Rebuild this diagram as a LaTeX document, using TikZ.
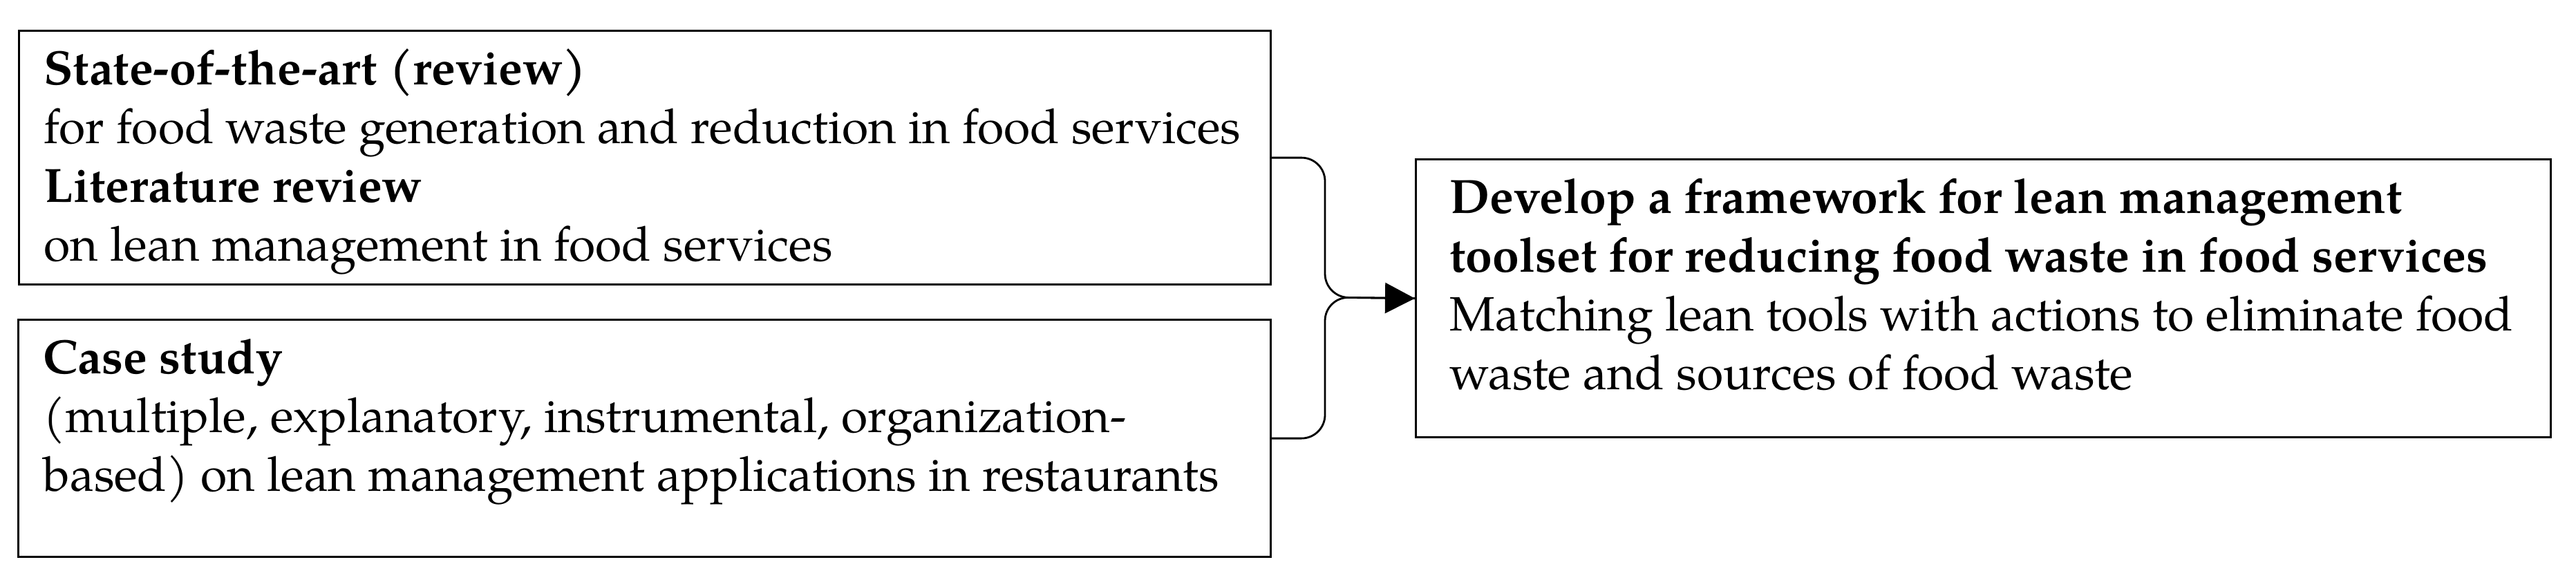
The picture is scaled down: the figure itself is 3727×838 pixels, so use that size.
\documentclass[tikz,border=0pt]{standalone}
\usepackage{fontspec}
\setmainfont{texgyrepagella}[Extension=.otf, UprightFont=*-regular, BoldFont=*-bold, ItalicFont=*-italic, BoldItalicFont=*-bolditalic]
\usetikzlibrary{arrows.meta}
\begin{document}
\begin{tikzpicture}[x=0.01cm, y=-0.01cm,
  box/.style={draw, line width=0.85pt, rectangle, anchor=north west, inner sep=0pt},
  txt/.style={anchor=base west, inner sep=0pt, font=\fontsize{19.8}{24.18}\selectfont},
  conn/.style={line width=0.8pt, rounded corners=0.34cm}]
\useasboundingbox (0,0) rectangle (3727,838);
\node[box, minimum width=18.10cm, minimum height=3.67cm] (b1) at (26,43) {};
\node[box, minimum width=18.11cm, minimum height=3.43cm] (b2) at (25,461) {};
\node[box, minimum width=16.41cm, minimum height=4.02cm] (b3) at (2047,229) {};
\node[txt] (t1) at (63,122) {\begin{tabular}[t]{@{}l@{}}\textbf{State-of-the-art (review)}\\
for food waste generation and reduction in food services\\
\textbf{Literature review}\\
on lean management in food services\end{tabular}};
\node[txt] (t2) at (62,540) {\begin{tabular}[t]{@{}l@{}}\textbf{Case study}\\
(multiple, explanatory, instrumental, organization-\\
based) on lean management applications in restaurants\end{tabular}};
\node[txt] (t3) at (2097,308) {\begin{tabular}[t]{@{}l@{}}\textbf{Develop a framework for lean management}\\
\textbf{toolset for reducing food waste in food services}\\
Matching lean tools with actions to eliminate food\\
waste and sources of food waste\end{tabular}};
\coordinate (j) at (1917,430);
\draw[conn] (b2.east) -| (j) -- (b3.west);
\draw[conn, -{Triangle[length=0.43cm, width=0.44cm]}] (b1.east) -| (j) -- (b3.west);
\end{tikzpicture}
\end{document}
